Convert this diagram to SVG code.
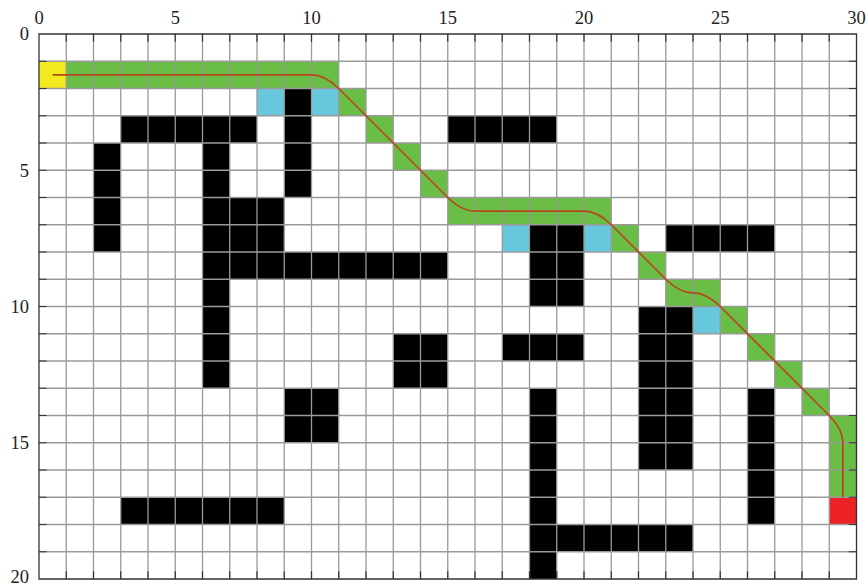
<svg xmlns="http://www.w3.org/2000/svg" width="868" height="586" viewBox="0 0 868 586">
<style>
.lbl{font-family:"Liberation Serif","Times New Roman",serif;font-size:18.5px;fill:#222}
.ob{fill:#000}
.gr{fill:#6abd45}
.cy{fill:#67c7dc}
.gl{stroke:#9a9a9a;stroke-width:1.3;fill:none;vector-effect:non-scaling-stroke}
.bx{stroke:#333;stroke-width:1.3;fill:none;vector-effect:non-scaling-stroke}
.tk{stroke:#333;stroke-width:1.2;fill:none;vector-effect:non-scaling-stroke}
.pt{stroke:#b8461f;stroke-width:1.7;fill:none;vector-effect:non-scaling-stroke}
</style>
<rect x="0" y="0" width="868" height="586" fill="#fff"/>
<g id="plot" transform="translate(39,34) scale(27.25)">
<g id="obstacles">
<rect class="ob" x="9" y="2" width="1" height="4"/>
<rect class="ob" x="3" y="3" width="5" height="1"/>
<rect class="ob" x="2" y="4" width="1" height="4"/>
<rect class="ob" x="6" y="4" width="1" height="9"/>
<rect class="ob" x="7" y="6" width="2" height="2"/>
<rect class="ob" x="7" y="8" width="8" height="1"/>
<rect class="ob" x="15" y="3" width="4" height="1"/>
<rect class="ob" x="18" y="7" width="2" height="3"/>
<rect class="ob" x="23" y="7" width="4" height="1"/>
<rect class="ob" x="22" y="10" width="2" height="6"/>
<rect class="ob" x="17" y="11" width="3" height="1"/>
<rect class="ob" x="13" y="11" width="2" height="2"/>
<rect class="ob" x="9" y="13" width="2" height="2"/>
<rect class="ob" x="18" y="13" width="1" height="7"/>
<rect class="ob" x="19" y="18" width="5" height="1"/>
<rect class="ob" x="26" y="13" width="1" height="5"/>
<rect class="ob" x="3" y="17" width="6" height="1"/>
</g>
<g id="route-cells">
<rect class="gr" x="1" y="1" width="10" height="1"/>
<rect class="gr" x="11" y="2" width="1" height="1"/>
<rect class="gr" x="12" y="3" width="1" height="1"/>
<rect class="gr" x="13" y="4" width="1" height="1"/>
<rect class="gr" x="14" y="5" width="1" height="1"/>
<rect class="gr" x="15" y="6" width="6" height="1"/>
<rect class="gr" x="21" y="7" width="1" height="1"/>
<rect class="gr" x="22" y="8" width="1" height="1"/>
<rect class="gr" x="23" y="9" width="2" height="1"/>
<rect class="gr" x="25" y="10" width="1" height="1"/>
<rect class="gr" x="26" y="11" width="1" height="1"/>
<rect class="gr" x="27" y="12" width="1" height="1"/>
<rect class="gr" x="28" y="13" width="1" height="1"/>
<rect class="gr" x="29" y="14" width="1" height="3"/>
<rect class="cy" x="8" y="2" width="1" height="1"/>
<rect class="cy" x="10" y="2" width="1" height="1"/>
<rect class="cy" x="17" y="7" width="1" height="1"/>
<rect class="cy" x="20" y="7" width="1" height="1"/>
<rect class="cy" x="24" y="10" width="1" height="1"/>
</g>
<g id="start"><rect x="0" y="1" width="1" height="1" fill="#f2ea1c"/></g>
<g id="goal"><rect x="29" y="17" width="1" height="1" fill="#ec2227"/></g>
<g id="grid">
<path class="gl" d="M1 0V20M2 0V20M3 0V20M4 0V20M5 0V20M6 0V20M7 0V20M8 0V20M9 0V20M10 0V20M11 0V20M12 0V20M13 0V20M14 0V20M15 0V20M16 0V20M17 0V20M18 0V20M19 0V20M20 0V20M21 0V20M22 0V20M23 0V20M24 0V20M25 0V20M26 0V20M27 0V20M28 0V20M29 0V20"/>
<path class="gl" d="M0 1H30M0 2H30M0 3H30M0 4H30M0 5H30M0 6H30M0 7H30M0 8H30M0 9H30M0 10H30M0 11H30M0 12H30M0 13H30M0 14H30M0 15H30M0 16H30M0 17H30M0 18H30M0 19H30"/>
<path class="tk" d="M1 0v0.28M2 0v0.28M3 0v0.28M4 0v0.28M5 0v0.28M6 0v0.28M7 0v0.28M8 0v0.28M9 0v0.28M10 0v0.28M11 0v0.28M12 0v0.28M13 0v0.28M14 0v0.28M15 0v0.28M16 0v0.28M17 0v0.28M18 0v0.28M19 0v0.28M20 0v0.28M21 0v0.28M22 0v0.28M23 0v0.28M24 0v0.28M25 0v0.28M26 0v0.28M27 0v0.28M28 0v0.28M29 0v0.28"/>
<path class="tk" d="M1 20v-0.28M2 20v-0.28M3 20v-0.28M4 20v-0.28M5 20v-0.28M6 20v-0.28M7 20v-0.28M8 20v-0.28M9 20v-0.28M10 20v-0.28M11 20v-0.28M12 20v-0.28M13 20v-0.28M14 20v-0.28M15 20v-0.28M16 20v-0.28M17 20v-0.28M18 20v-0.28M19 20v-0.28M20 20v-0.28M21 20v-0.28M22 20v-0.28M23 20v-0.28M24 20v-0.28M25 20v-0.28M26 20v-0.28M27 20v-0.28M28 20v-0.28M29 20v-0.28"/>
<path class="tk" d="M0 1h0.28M0 2h0.28M0 3h0.28M0 4h0.28M0 5h0.28M0 6h0.28M0 7h0.28M0 8h0.28M0 9h0.28M0 10h0.28M0 11h0.28M0 12h0.28M0 13h0.28M0 14h0.28M0 15h0.28M0 16h0.28M0 17h0.28M0 18h0.28M0 19h0.28"/>
<path class="tk" d="M30 1h-0.28M30 2h-0.28M30 3h-0.28M30 4h-0.28M30 5h-0.28M30 6h-0.28M30 7h-0.28M30 8h-0.28M30 9h-0.28M30 10h-0.28M30 11h-0.28M30 12h-0.28M30 13h-0.28M30 14h-0.28M30 15h-0.28M30 16h-0.28M30 17h-0.28M30 18h-0.28M30 19h-0.28"/>
<rect class="bx" x="0" y="0" width="30" height="20"/>
</g>
<g id="connectors">
<path class="pt" d="M0.5 1.5H10Q10.5 1.5 11 2L15 6Q15.5 6.5 16 6.5H20Q20.5 6.5 21 7L23 9Q23.5 9.5 24 9.5Q24.5 9.5 25 10L29 14Q29.5 14.5 29.5 15V17"/>
</g>
</g>
<g id="axis-labels">
<text class="lbl" x="39" y="24" text-anchor="middle">0</text>
<text class="lbl" x="175.25" y="24" text-anchor="middle">5</text>
<text class="lbl" x="311.5" y="24" text-anchor="middle">10</text>
<text class="lbl" x="447.75" y="24" text-anchor="middle">15</text>
<text class="lbl" x="584" y="24" text-anchor="middle">20</text>
<text class="lbl" x="720.25" y="24" text-anchor="middle">25</text>
<text class="lbl" x="856.5" y="24" text-anchor="middle">30</text>
<text class="lbl" x="29" y="40" text-anchor="end">0</text>
<text class="lbl" x="29" y="176.5" text-anchor="end">5</text>
<text class="lbl" x="29" y="312.5" text-anchor="end">10</text>
<text class="lbl" x="29" y="448.5" text-anchor="end">15</text>
<text class="lbl" x="29" y="583" text-anchor="end">20</text>
</g>
</svg>
